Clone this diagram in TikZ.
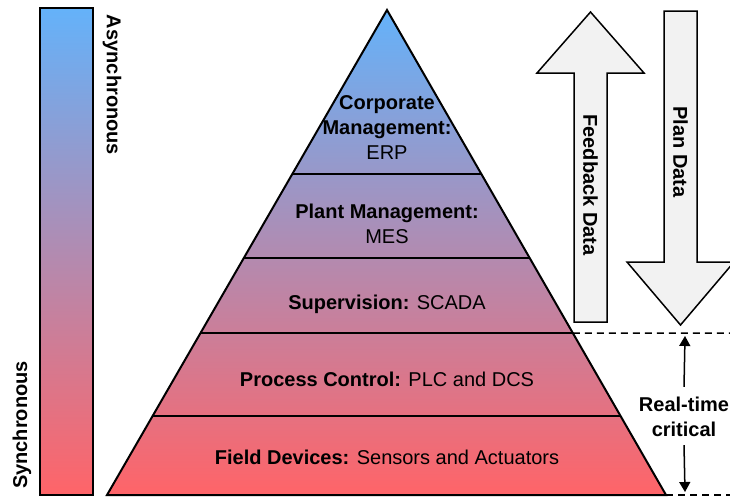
\documentclass[tikz,border=0pt]{standalone}
\usepackage{fontspec}
\setmainfont{Liberation Sans}
\usetikzlibrary{calc,arrows.meta}
\definecolor{topblue}{RGB}{100,178,250}
\definecolor{midlilac}{RGB}{166,142,196}
\definecolor{botred}{RGB}{255,100,104}
\definecolor{arrowgray}{RGB}{242,242,242}
\tikzset{
  txt/.style={font=\fontsize{20}{25}\selectfont, align=center, inner sep=0pt},
  grad/.style={top color=topblue, middle color=midlilac, bottom color=botred},
  bigarrow/.style={draw, line width=1.5pt, fill=arrowgray, line join=miter},
  cut/.style={line width=1.5pt, dash pattern=on 7pt off 5pt},
  rtarrow/.style={line width=1.5pt, -{Triangle[length=10pt,width=11pt]}},
}
\begin{document}
\begin{tikzpicture}[x=1pt,y=-1pt]
\useasboundingbox (0,0) rectangle (730,498);

% sync bar
\shade[grad] (40,8) rectangle (93,495);
\draw[line width=1.5pt] (40,8) rectangle (93,495);
\node[txt, rotate=-90] (async) at (112,85) {\textbf{Asynchronous}};
\node[txt, rotate=90] (sync) at (22,425) {\textbf{Synchronous}};

% pyramid
\coordinate (apex) at (387,10);
\coordinate (bl) at (107,495);
\coordinate (br) at (666,495);
\shade[grad] (apex) -- (bl) -- (br) -- cycle;
\foreach \t/\n in {0.338/a, 0.511/b, 0.666/c, 0.837/d}{
  \draw[line width=1.5pt] ($(apex)!\t!(bl)$) coordinate (l\n) -- ($(apex)!\t!(br)$) coordinate (r\n);
}
\draw[line width=2pt, line join=miter] (apex) -- (bl) -- (br) -- cycle;

% layers
\node[txt] (erp) at (387,128) {\textbf{Corporate}\\\textbf{Management:}\\ERP};
\node[txt] (mes) at (387,224) {\textbf{Plant Management:}\\MES};
\node[txt] (scada) at (387,304) {\textbf{Supervision:} SCADA};
\node[txt] (plc) at (387,379) {\textbf{Process Control:} PLC and DCS};
\node[txt] (field) at (387,457) {\textbf{Field Devices:} Sensors and Actuators};

% data arrows
\draw[bigarrow] (574,322) -- (574,73) -- (537,73) -- (590.5,12) -- (644,73) -- (607,73) -- (607,322) -- cycle;
\node[txt, rotate=-90] (feedback) at (590.5,185) {\textbf{Feedback Data}};
\draw[bigarrow] (664,11) -- (697,11) -- (697,262) -- (734,262) -- (680.5,325) -- (627,262) -- (664,262) -- cycle;
\node[txt, rotate=-90] (plan) at (680.5,152) {\textbf{Plan Data}};

% real-time band
\coordinate (cuttop) at (730,333);
\coordinate (cutbot) at (730,495);
\draw[cut] (rc) -- (cuttop);
\draw[cut] (br) -- (cutbot);
\node[txt] (rt) at (684,417) {\textbf{Real-time}\\\textbf{critical}};
\coordinate (rtup) at (685,336);
\coordinate (rtdown) at (685,492);
\draw[rtarrow] ([yshift=10pt]rt.north) -- (rtup);
\draw[rtarrow] ([yshift=-8pt]rt.south) -- (rtdown);
\end{tikzpicture}
\end{document}
